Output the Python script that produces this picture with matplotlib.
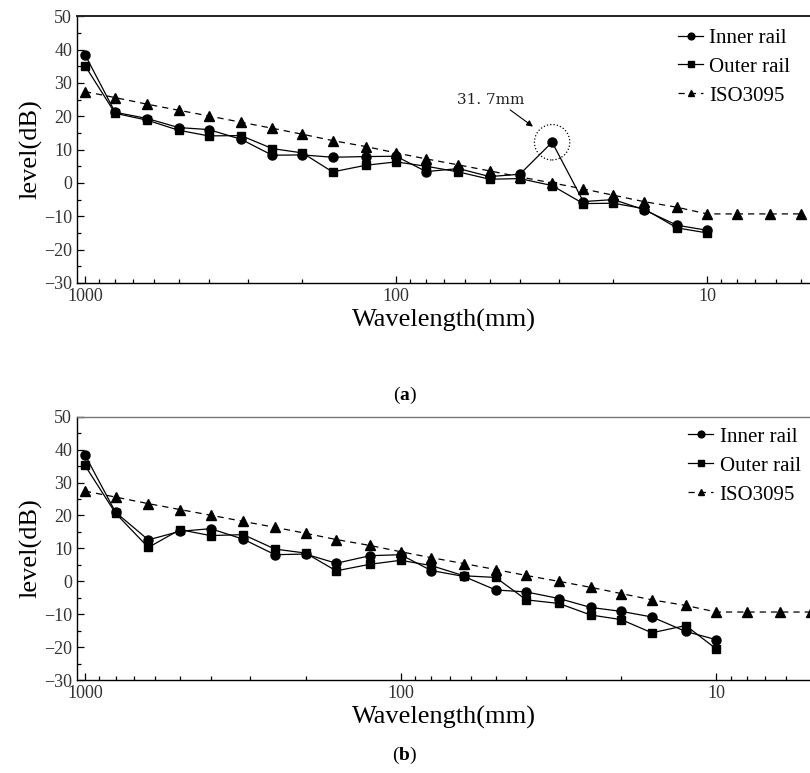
import numpy as np
import matplotlib
matplotlib.use("Agg")
import matplotlib.pyplot as plt
from matplotlib.ticker import FixedLocator, LogLocator, NullFormatter, FuncFormatter

plt.rcParams["font.family"] = ["Liberation Serif", "DejaVu Serif"]
plt.rcParams["mathtext.fontset"] = "custom"
plt.rcParams["mathtext.bf"] = "Liberation Serif:bold"
plt.rcParams["mathtext.rm"] = "Liberation Serif"

# one-third octave band wavelengths (mm)
wavelength = [1000, 800, 630, 500, 400, 315, 250, 200, 160, 125, 100, 80, 63, 50,
              40, 31.5, 25, 20, 16, 12.5, 10, 8, 6.3, 5]
n_meas = 21  # measured bands run 1000 -> 10 mm

iso3095 = [27.4, 25.6, 23.6, 21.8, 20.1, 18.2, 16.4, 14.6, 12.7, 10.9, 9.0, 7.2,
           5.4, 3.6, 1.8, 0.0, -1.8, -3.7, -5.6, -7.3, -9.3, -9.3, -9.3, -9.3]

inner_a = [38.5, 21.2, 19.3, 16.6, 16.0, 13.1, 8.3, 8.4, 7.7, 7.9, 8.0, 3.4, 4.3,
           1.9, 2.6, 12.2, -5.6, -5.0, -8.0, -12.7, -14.2]
outer_a = [35.2, 20.9, 18.8, 15.8, 14.1, 14.2, 10.3, 9.0, 3.3, 5.3, 6.3, 5.0, 3.3,
           1.1, 1.3, -0.8, -6.2, -6.1, -7.7, -13.5, -15.0]

inner_b = [38.4, 21.0, 12.6, 15.2, 16.0, 12.8, 8.1, 8.3, 5.5, 7.8, 8.1, 3.3, 1.5,
           -2.6, -3.2, -5.2, -7.9, -9.1, -10.8, -15.2, -17.7]
outer_b = [35.2, 20.7, 10.3, 15.7, 13.9, 14.2, 9.8, 8.6, 3.2, 5.2, 6.4, 4.8, 1.7,
           1.2, -5.6, -6.7, -10.2, -11.6, -15.6, -13.4, -20.5]

peak_wl, peak_level = 31.5, 12.2
peak_text = "31. 7mm"

fig = plt.figure(figsize=(8.1, 7.73), dpi=100)
ax_a = fig.add_axes([0.095, 0.634, 0.905, 0.345])
ax_b = fig.add_axes([0.095, 0.120, 0.905, 0.341])


def draw_panel(ax, inner, outer, xlim, legend_anchor, top_style):
    wl = np.array(wavelength)
    ax.plot(wl[:n_meas], inner, "k-", lw=0.9, marker="o", ms=6.5, label="Inner rail")
    ax.plot(wl[:n_meas], outer, "k-", lw=0.9, marker="s", ms=5.5, label="Outer rail")
    ax.plot(wl, iso3095, "k--", lw=0.9, dashes=(5, 4), marker="^", ms=6.5,
            label="ISO3095")
    ax.set_xscale("log")
    ax.set_xlim(*xlim)
    ax.set_ylim(-30, 50)
    ax.set_yticks(np.arange(-30, 51, 10))
    ax.set_yticks(np.arange(-25, 50, 10), minor=True)
    ax.xaxis.set_major_locator(FixedLocator([1000, 100, 10]))
    ax.xaxis.set_major_formatter(FuncFormatter(lambda v, p: f"{v:g}"))
    ax.xaxis.set_minor_locator(LogLocator(base=10, subs=np.arange(2, 10)))
    ax.xaxis.set_minor_formatter(NullFormatter())
    ax.tick_params(which="both", direction="in", top=False, right=False,
                   labelsize=13, labelcolor="#333333", width=0.9)
    ax.tick_params(which="major", length=5)
    ax.tick_params(which="minor", length=3)
    ax.spines["right"].set_visible(False)
    ax.spines["top"].set_linewidth(top_style[0])
    ax.spines["top"].set_color(top_style[1])
    for s in ("left", "bottom"):
        ax.spines[s].set_linewidth(1.0)
    ax.set_xlabel("Wavelength(mm)", fontsize=19, labelpad=3)
    ax.set_ylabel("level(dB)", fontsize=19, labelpad=1)
    ax.legend(loc="upper left", bbox_to_anchor=legend_anchor, frameon=False,
              fontsize=15, handlelength=1.2, handletextpad=0.3, labelspacing=0.45,
              borderpad=0, borderaxespad=0, markerscale=0.75)


draw_panel(ax_a, inner_a, outer_a, (1061, 4.67), (0.82, 0.955), (1.4, "#222222"))
draw_panel(ax_b, inner_b, outer_b, (1060, 5.05), (0.834, 0.96), (1.0, "#777777"))

# highlight of the peak in panel (a)
ax_a.scatter([peak_wl], [peak_level], s=650, facecolors="none", edgecolors="k",
             linestyles=":", linewidths=0.9, zorder=5)
ax_a.annotate("", xy=(35.7, 16.4), xytext=(43.7, 22.4),
              arrowprops=dict(arrowstyle="-|>", lw=0.8, color="k", mutation_scale=9))
ax_a.text(49.5, 24.8, peak_text, ha="center", va="center", fontsize=11,
          family=["DejaVu Serif"], color="#222222")

fig.text(0.5, 1 - 395 / 773, r"($\mathbf{a}$)", ha="center", va="center", fontsize=14)
fig.text(0.5, 1 - 755 / 773, r"($\mathbf{b}$)", ha="center", va="center", fontsize=14)

fig.savefig("out.png", dpi=100)
